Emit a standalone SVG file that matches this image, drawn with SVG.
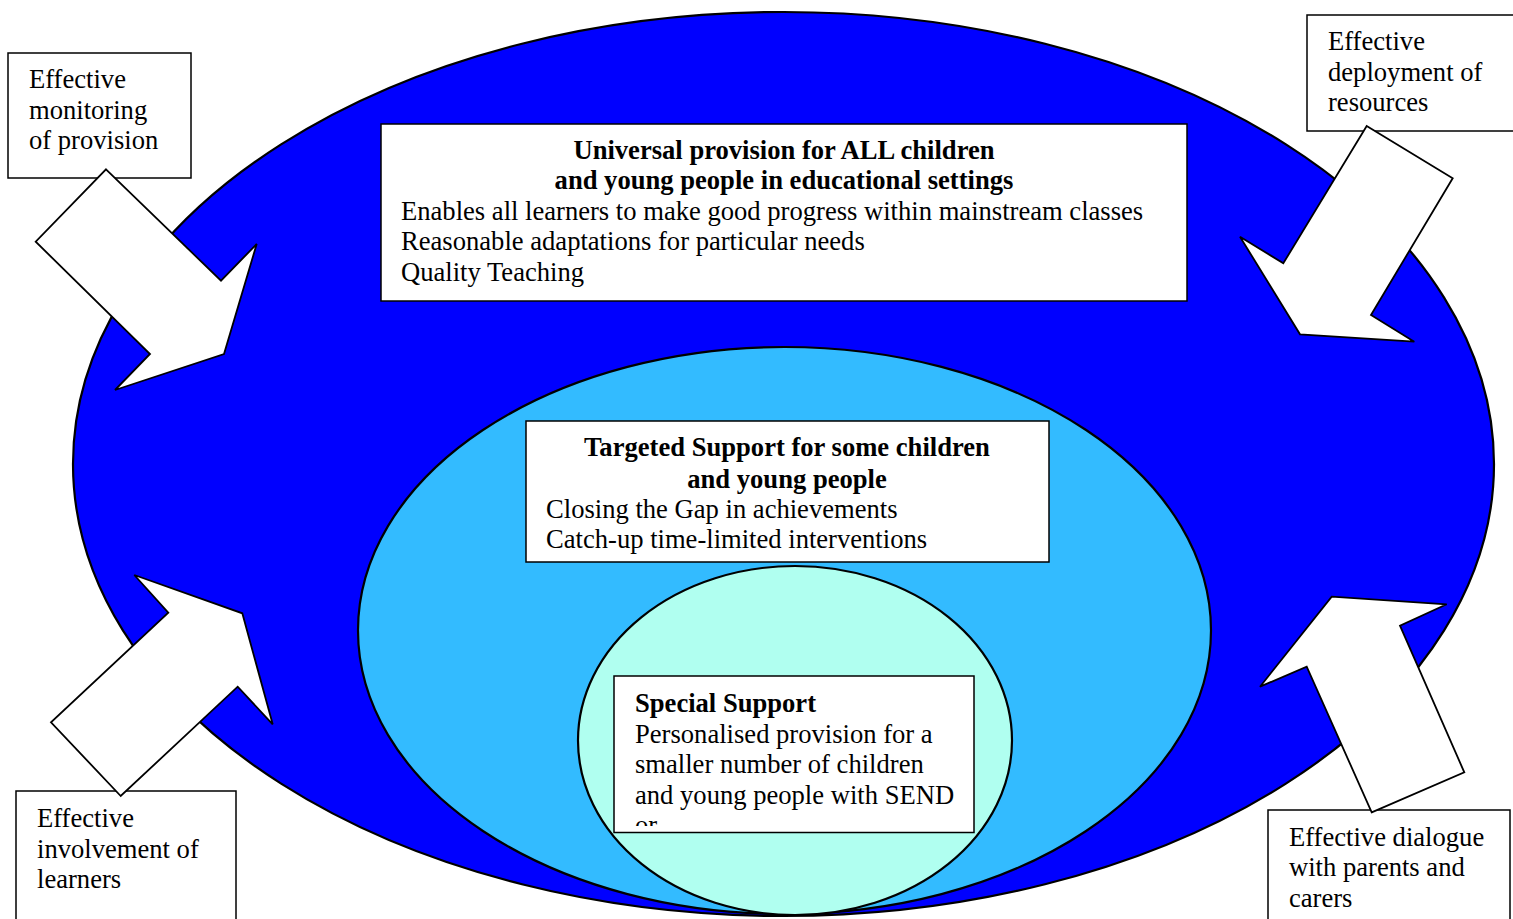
<svg xmlns="http://www.w3.org/2000/svg" width="1513" height="919" viewBox="0 0 1513 919">
  <style>
    text { font-family: "Liberation Serif", "Times New Roman", serif; font-size: 26.6px; fill: #000; }
    .b { font-weight: bold; }
    .c { text-anchor: middle; }
    .box { fill: #fff; stroke: #000; stroke-width: 1.5; }
    .ring { stroke: #000; stroke-width: 2.2; }
    .arrow { fill: #fff; stroke: #000; stroke-width: 1.8; stroke-linejoin: miter; }
  </style>
  <defs>
    <!-- text frame of the special-support panel: overflowing lines are cut off -->
    <clipPath id="specialClip">
      <rect x="615" y="677" width="358" height="149"/>
    </clipPath>
  </defs>

  <rect width="1513" height="919" fill="#fff"/>

  <!-- nested provision levels -->
  <g id="universal">
    <ellipse class="ring" cx="783.5" cy="464" rx="710.5" ry="452" fill="#0000ff"/>
  </g>
  <g id="targeted">
    <ellipse class="ring" cx="784.5" cy="630.5" rx="426.5" ry="283.5" fill="#33bbff"/>
  </g>
  <g id="special">
    <ellipse class="ring" cx="795" cy="740.5" rx="217" ry="174.5" fill="#b0fff0"/>
  </g>

  <!-- text panels inside the levels -->
  <g id="universal-text">
    <rect class="box" x="381" y="124" width="806" height="177"/>
    <text class="b c" x="784" y="159">Universal provision for ALL children</text>
    <text class="b c" x="784" y="189">and young people in educational settings</text>
    <text x="401" y="220">Enables all learners to make good progress within mainstream classes</text>
    <text x="401" y="250">Reasonable adaptations for particular needs</text>
    <text x="401" y="281">Quality Teaching</text>
  </g>
  <g id="targeted-text">
    <rect class="box" x="526" y="421" width="523" height="141"/>
    <text class="b c" x="787" y="456">Targeted Support for some children</text>
    <text class="b c" x="787" y="488">and young people</text>
    <text x="546" y="518">Closing the Gap in achievements</text>
    <text x="546" y="548">Catch-up time-limited interventions</text>
  </g>
  <g id="special-text">
    <rect class="box" x="614" y="676" width="360" height="156.5"/>
    <g clip-path="url(#specialClip)">
      <text class="b" x="635" y="712">Special Support</text>
      <text x="635" y="743">Personalised provision for a</text>
      <text x="635" y="773">smaller number of children</text>
      <text x="635" y="804">and young people with SEND</text>
      <text x="635" y="834">or</text>
    </g>
  </g>

  <!-- outer labels -->
  <g id="monitoring">
    <rect class="box" x="8" y="53" width="183" height="125"/>
    <text x="29" y="88">Effective</text>
    <text x="29" y="119">monitoring</text>
    <text x="29" y="149">of provision</text>
  </g>
  <g id="deployment">
    <rect class="box" x="1307" y="15" width="210" height="116"/>
    <text x="1328" y="50">Effective</text>
    <text x="1328" y="81">deployment of</text>
    <text x="1328" y="111">resources</text>
  </g>
  <g id="involvement">
    <rect class="box" x="16" y="791" width="220" height="135"/>
    <text x="37" y="827">Effective</text>
    <text x="37" y="858">involvement of</text>
    <text x="37" y="888">learners</text>
  </g>
  <g id="dialogue">
    <rect class="box" x="1268" y="810" width="242" height="116"/>
    <text x="1289" y="846">Effective dialogue</text>
    <text x="1289" y="876">with parents and</text>
    <text x="1289" y="907">carers</text>
  </g>

  <!-- block arrows pointing into the provision -->
  <g id="connectors">
    <polygon class="arrow" points="106,169.3 221,280.7 256.7,244 224,354 115,390 150,354 35.7,241.7"/>
    <polygon class="arrow" points="1366.7,126 1452.7,178.3 1371,315 1414.3,341.7 1300,334.3 1240,236.7 1283.3,263.3"/>
    <polygon class="arrow" points="120.7,796 51,722.3 168.3,612.7 134.3,575 242.3,613.3 272.7,724.3 237.7,686.7"/>
    <polygon class="arrow" points="1371.7,812.3 1464.3,772.3 1400,625.7 1446.7,604.3 1331.7,596.7 1260,686.7 1306.7,666.7"/>
  </g>
</svg>
